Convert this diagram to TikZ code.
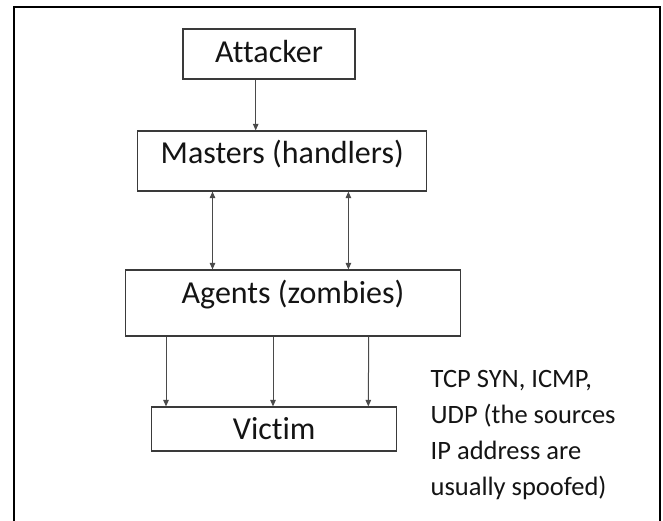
\documentclass[tikz,border=0pt]{standalone}
\usepackage{fontspec}
\setmainfont{Carlito}[Ligatures={NoCommon}]
\usetikzlibrary{arrows.meta}
\definecolor{edge}{HTML}{3A3A3A}
\definecolor{wire}{HTML}{4A4A4A}
\definecolor{ink}{HTML}{141414}
\begin{document}
\begin{tikzpicture}[x=1pt,y=-1pt,
  box/.style={draw=edge, line width=1.2pt, rectangle, inner sep=0pt,
    text=ink, font=\fontsize{32}{32}\selectfont, text depth=0pt},
  flow/.style={draw=wire, line width=1pt, -{Triangle[length=6.5pt,width=5.5pt]}},
  bothway/.style={draw=wire, line width=1pt, {Triangle[length=6.5pt,width=5.5pt]}-{Triangle[length=6.5pt,width=5.5pt]}},
  note/.style={anchor=base west, inner sep=0pt, text=ink, font=\fontsize{26.5}{35.7}\selectfont, align=left}]
  \useasboundingbox (0,0) rectangle (663,521);
  % outer frame, open at the bottom
  \draw[line width=2.3pt, black] (14,530) -- (14,7.3) -- (660.2,7.3) -- (660.2,530);

  % boxes (text height sets the baseline below the box centre)
  \node[box, minimum width=172pt, minimum height=50pt, text height=16.6pt] (att) at (269,54) {Attacker};
  \node[box, minimum width=289pt, minimum height=60pt, text height=6pt] (mas) at (282.2,161) {Masters (handlers)};
  \node[box, minimum width=334.5pt, minimum height=66pt, text height=0.6pt] (agt) at (293,303) {Agents (zombies)};
  \node[box, minimum width=245pt, minimum height=44pt, text height=20.6pt] (vic) at (274.2,429) {Victim};

  % connectors
  \draw[flow] (att.south -| 255.7,0) -- (mas.north -| 255.7,0);
  \draw[bothway] (mas.south -| 212.5,0) -- (agt.north -| 212.5,0);
  \draw[bothway] (mas.south -| 348.4,0) -- (agt.north -| 348.4,0);
  \draw[flow] (agt.south -| 166,0) -- (vic.north -| 166,0);
  \draw[flow] (agt.south -| 273,0) -- (vic.north -| 273,0);
  \draw[flow] (agt.south -| 368.7,0) -- (vic.north -| 368.3,0);

  % traffic note (anchored at the baseline of its last line)
  \node[note] (txt) at (430.5,495) {TCP SYN, ICMP,\\UDP (the sources\\IP address are\\usually spoofed)};
\end{tikzpicture}
\end{document}
